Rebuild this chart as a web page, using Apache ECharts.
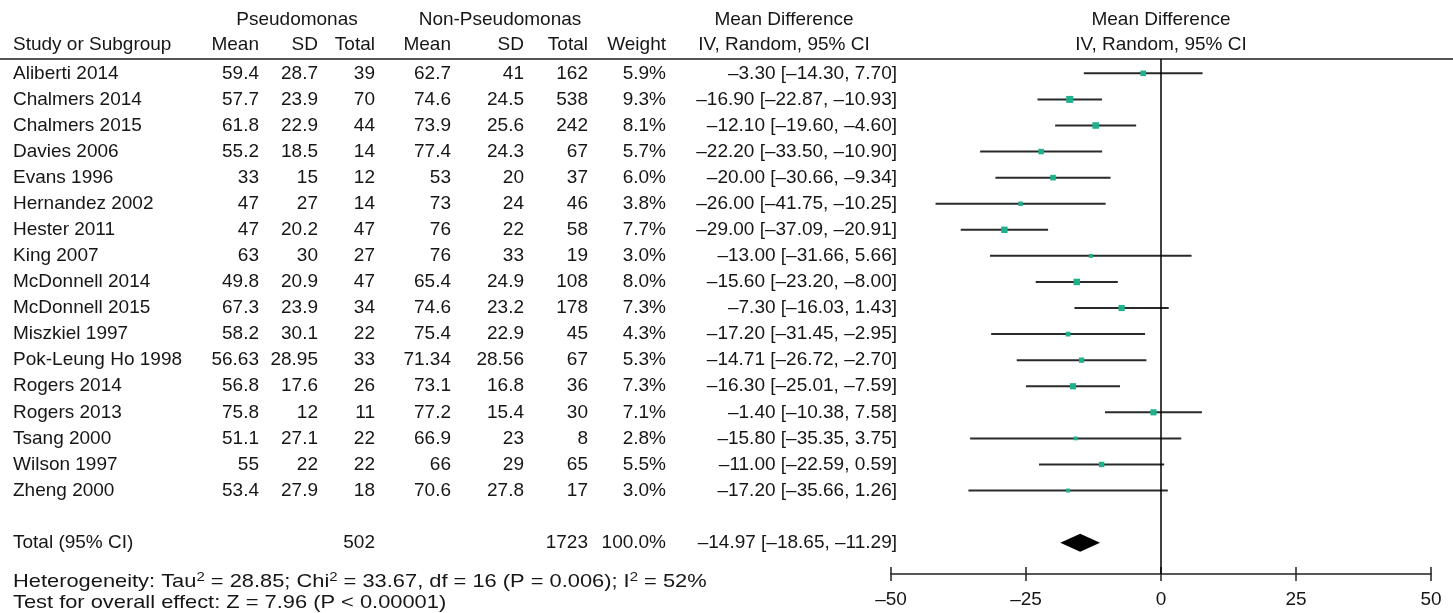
<!DOCTYPE html>
<html><head><meta charset="utf-8">
<script src="https://cdn.jsdelivr.net/npm/echarts@6/dist/echarts.min.js"></script>
<style>html,body{margin:0;padding:0;background:#fff}#c{width:1453px;height:613px}</style>
</head><body><div id="c"></div>
<script>
// ---- data ----
const studies = ['Aliberti 2014','Chalmers 2014','Chalmers 2015','Davies 2006','Evans 1996','Hernandez 2002','Hester 2011','King 2007','McDonnell 2014','McDonnell 2015','Miszkiel 1997','Pok-Leung Ho 1998','Rogers 2014','Rogers 2013','Tsang 2000','Wilson 1997','Zheng 2000'];
const pMean = [59.4,57.7,61.8,55.2,33,47,47,63,49.8,67.3,58.2,56.63,56.8,75.8,51.1,55,53.4];
const pSD = [28.7,23.9,22.9,18.5,15,27,20.2,30,20.9,23.9,30.1,28.95,17.6,12,27.1,22,27.9];
const pTotal = [39,70,44,14,12,14,47,27,47,34,22,33,26,11,22,22,18];
const nMean = [62.7,74.6,73.9,77.4,53,73,76,76,65.4,74.6,75.4,71.34,73.1,77.2,66.9,66,70.6];
const nSD = [41,24.5,25.6,24.3,20,24,22,33,24.9,23.2,22.9,28.56,16.8,15.4,23,29,27.8];
const nTotal = [162,538,242,67,37,46,58,19,108,178,45,67,36,30,8,65,17];
const weight = [5.9,9.3,8.1,5.7,6.0,3.8,7.7,3.0,8.0,7.3,4.3,5.3,7.3,7.1,2.8,5.5,3.0];
const md = [-3.30,-16.90,-12.10,-22.20,-20.00,-26.00,-29.00,-13.00,-15.60,-7.30,-17.20,-14.71,-16.30,-1.40,-15.80,-11.00,-17.20];
const lo = [-14.30,-22.87,-19.60,-33.50,-30.66,-41.75,-37.09,-31.66,-23.20,-16.03,-31.45,-26.72,-25.01,-10.38,-35.35,-22.59,-35.66];
const hi = [7.70,-10.93,-4.60,-10.90,-9.34,-10.25,-20.91,5.66,-8.00,1.43,-2.95,-2.70,-7.59,7.58,3.75,0.59,1.26];
const totalLabel = 'Total (95% CI)';
const totalP = 502, totalN = 1723, totalWeight = 100.0;
const totalMd = -14.97, totalLo = -18.65, totalHi = -11.29;
const totalRow = 18;
const heterogeneityText = 'Heterogeneity: Tau{s|2} = 28.85; Chi{s|2} = 33.67, df = 16 (P = 0.006); I{s|2} = 52%';
const overallText = 'Test for overall effect: Z = 7.96 (P < 0.00001)';

// ---- style / layout ----
const FONT = '"Liberation Sans", Arial, Helvetica, sans-serif';
const FS = 19;
const TXT = '#161616';
const COL = {pMean:259, pSD:318, pTotal:375, nMean:451, nSD:524, nTotal:588, weight:666, ci:897};
const LABEL_X = 13;
const GRID_TOP = 59, GRID_BOTTOM = 39, H = 613;

function dash(v){ return (v < 0 ? '\u2013' : '') + Math.abs(v).toFixed(2); }
function ciText(m, l, h){ return dash(m) + ' [' + dash(l) + ', ' + dash(h) + ']'; }

const tableRows = studies.map((s, i) => ({
  y: i, name: s,
  cells: [[COL.pMean, String(pMean[i])],[COL.pSD, String(pSD[i])],[COL.pTotal, String(pTotal[i])],
          [COL.nMean, String(nMean[i])],[COL.nSD, String(nSD[i])],[COL.nTotal, String(nTotal[i])],
          [COL.weight, weight[i].toFixed(1) + '%'],[COL.ci, ciText(md[i], lo[i], hi[i])]]
}));
tableRows.push({ y: totalRow, name: totalLabel,
  cells: [[COL.pTotal, String(totalP)],[COL.nTotal, String(totalN)],[COL.weight, totalWeight.toFixed(1) + '%'],[COL.ci, ciText(totalMd, totalLo, totalHi)]]});

function txt(x, y, t, align){
  return {type:'text', x:x, y:y, style:{text:t, fill:TXT, fontSize:FS, fontFamily:FONT, align:align, verticalAlign:'middle'}};
}
function head(x, y, t, align){
  return {type:'text', x:x, y:y, silent:true, style:{text:t, fill:TXT, fontSize:FS, fontFamily:FONT, align:align, verticalAlign:'middle'}};
}

const chart = echarts.init(document.getElementById('c'), null, {renderer:'canvas'});
const sup = {fontSize:13, fontFamily:FONT, color:TXT, verticalAlign:'top', lineHeight:10};
const gridH = H - GRID_TOP - GRID_BOTTOM;
const tickStyle = {color:'#222', width:1.5};

chart.setOption({
  animation:false,
  backgroundColor:'#fff',
  grid:{left:891, right:22, top:GRID_TOP, bottom:GRID_BOTTOM},
  xAxis:[{
    type:'value', min:-50, max:50, interval:25, position:'bottom',
    axisLine:{show:true, onZero:false, lineStyle:tickStyle},
    axisTick:{show:true, inside:false, length:7, lineStyle:tickStyle},
    axisLabel:{margin:16, fontSize:FS, fontFamily:FONT, color:TXT, formatter:v => (v<0?'\u2013':'') + Math.abs(v)},
    splitLine:{show:false}
  },{
    type:'value', min:-50, max:50, interval:25, position:'top', offset:-gridH,
    axisLine:{show:false},
    axisTick:{show:true, inside:false, length:7, lineStyle:tickStyle},
    axisLabel:{show:false}, splitLine:{show:false}
  }],
  yAxis:{type:'value', min:-0.55, max:19.2, inverse:true, show:false},
  graphic:[
    {type:'line', silent:true, shape:{x1:0, y1:GRID_TOP, x2:1453, y2:GRID_TOP}, style:{stroke:'#555', lineWidth:2}},
    head(297, 20, 'Pseudomonas', 'center'),
    head(500, 20, 'Non-Pseudomonas', 'center'),
    head(784, 20, 'Mean Difference', 'center'),
    head(1161, 20, 'Mean Difference', 'center'),
    head(LABEL_X, 45, 'Study or Subgroup', 'left'),
    head(COL.pMean, 45, 'Mean', 'right'),
    head(COL.pSD, 45, 'SD', 'right'),
    head(COL.pTotal, 45, 'Total', 'right'),
    head(COL.nMean, 45, 'Mean', 'right'),
    head(COL.nSD, 45, 'SD', 'right'),
    head(COL.nTotal, 45, 'Total', 'right'),
    head(COL.weight, 45, 'Weight', 'right'),
    head(784, 45, 'IV, Random, 95% CI', 'center'),
    head(1161, 45, 'IV, Random, 95% CI', 'center'),
    {type:'text', x:LABEL_X, y:582, scaleX:1.15, silent:true, style:{
      text:heterogeneityText, fill:TXT, fontSize:FS, fontFamily:FONT, align:'left', verticalAlign:'middle', lineHeight:22,
      rich:{s:sup}}},
    {type:'text', x:LABEL_X, y:603, scaleX:1.15, silent:true, style:{text:overallText, fill:TXT, fontSize:FS, fontFamily:FONT, align:'left', verticalAlign:'middle'}}
  ],
  series:[
    {
      type:'custom', name:'table', xAxisIndex:0, yAxisIndex:0, clip:false, silent:true,
      data: tableRows.map(r => [0, r.y]),
      renderItem:function(params, api){
        const r = tableRows[params.dataIndex];
        const y = api.coord([0, r.y])[1];
        const children = [txt(LABEL_X, y, r.name, 'left')];
        r.cells.forEach(c => children.push(txt(c[0], y, c[1], 'right')));
        return {type:'group', children:children};
      }
    },
    {
      type:'custom', name:'ci', xAxisIndex:0, yAxisIndex:0, silent:true,
      data: studies.map((s, i) => [lo[i], hi[i], i]),
      encode:{x:[0,1], y:2},
      renderItem:function(params, api){
        const a = api.coord([api.value(0), api.value(2)]);
        const b = api.coord([api.value(1), api.value(2)]);
        return {type:'line', shape:{x1:a[0], y1:a[1], x2:b[0], y2:b[1]}, style:{stroke:'#2a2a2a', lineWidth:2}};
      },
      markLine:{
        silent:true, symbol:['none','none'], label:{show:false},
        lineStyle:{color:'#000', width:1.5, type:'solid'},
        data:[{xAxis:0}]
      }
    },
    {
      type:'scatter', name:'md', xAxisIndex:0, yAxisIndex:0, silent:true,
      symbol:'rect',
      data: studies.map((s, i) => [md[i], i, weight[i]]),
      symbolSize: v => 2.3 * Math.sqrt(v[2]),
      itemStyle:{color:'#1fb18c', opacity:1},
      z:5
    },
    {
      type:'custom', name:'total', xAxisIndex:0, yAxisIndex:0, silent:true,
      data: [[totalLo, totalMd, totalHi, totalRow]],
      encode:{x:[0,1,2], y:3},
      renderItem:function(params, api){
        const yv = api.value(3);
        const l = api.coord([api.value(0), yv]);
        const m = api.coord([api.value(1), yv]);
        const h = api.coord([api.value(2), yv]);
        const hh = 9;
        return {type:'polygon', shape:{points:[[l[0], l[1]],[m[0], m[1]-hh],[h[0], h[1]],[m[0], m[1]+hh]]}, style:{fill:'#000'}};
      }
    }
  ]
});
</script>
</body></html>
